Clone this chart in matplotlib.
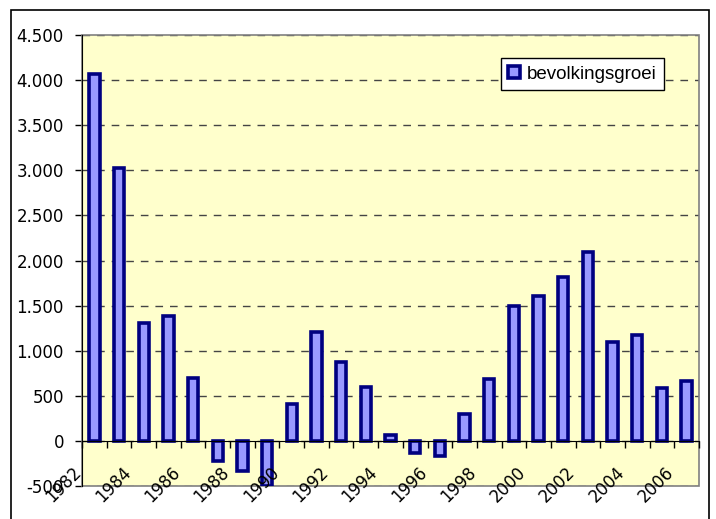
import numpy as np
import matplotlib
matplotlib.use("Agg")
import matplotlib.pyplot as plt
import matplotlib.transforms as mtransforms
from matplotlib.patches import Rectangle

# ===============================
# Data
# ===============================
jaren = list(range(1982, 2007))
bevolkingsgroei = [4070, 3020, 1310, 1390, 700, -218, -337, -499, 410, 1210,
                   880, 600, 60, -137, -163, 300, 690, 1500, 1610, 1820,
                   2090, 1100, 1170, 591, 660]
y_ticks = list(range(-500, 5000, 500))

# ===============================
# Figure
# ===============================
plt.rcParams["lines.scale_dashes"] = False
fig = plt.figure(figsize=(7.16, 5.19), dpi=100)
ax = fig.add_axes([82 / 716, 1 - 486 / 519, 617 / 716, 451 / 519])
ax.set_facecolor("#FFFFCC")

x = np.arange(len(jaren))
ax.bar(x, bevolkingsgroei, width=0.42, color="#9999FF", edgecolor="#000080",
       linewidth=2.6, label="bevolkingsgroei", zorder=3)

ax.set_xlim(-0.5, len(jaren) - 0.5)
ax.set_ylim(-500, 4500)

# y-as
ax.set_yticks(y_ticks)
ax.set_yticklabels([f"{v:,.0f}".replace(",", ".") for v in y_ticks],
                   fontsize=12, family="DejaVu Sans")
ax.tick_params(axis="y", direction="out", length=5, width=1, pad=8)
ax.yaxis.grid(True, linestyle=(0, (5.5, 5)), color="#444444", linewidth=1)
ax.set_axisbelow(True)

# x-as op nul (labels boven de staven)
ax.spines["bottom"].set_position(("data", 0))
ax.spines["bottom"].set_zorder(4)
ax.spines["top"].set_visible(False)
ax.spines["right"].set_visible(False)
ax.xaxis.set_zorder(5)
ax.set_xticks(x[::2])
ax.set_xticklabels([str(j) for j in jaren[::2]], rotation=45, ha="right",
                   va="top", rotation_mode="anchor", fontsize=12,
                   family="DejaVu Sans")
ax.tick_params(axis="x", length=0, pad=16)
ax.set_xticks(np.arange(-0.5, len(jaren), 1), minor=True)
ax.tick_params(axis="x", which="minor", direction="out", length=5, width=1)
offset = mtransforms.ScaledTranslation(-22 / 100, 0, fig.dpi_scale_trans)
for lbl in ax.get_xticklabels():
    lbl.set_transform(lbl.get_transform() + offset)

# kader plotgebied
ax.add_patch(Rectangle((0, 0), 1, 1, transform=ax.transAxes, fill=False,
                       edgecolor="#808080", linewidth=1.2, clip_on=False,
                       zorder=2))

# legenda
leg = ax.legend(loc="upper left", bbox_to_anchor=(0.679, 0.949),
                borderaxespad=0, fancybox=False, edgecolor="black",
                framealpha=1, handlelength=0.6, handleheight=0.6,
                handletextpad=0.4, borderpad=0.4,
                prop={"family": "Liberation Sans", "size": 13.5})
leg.get_frame().set_linewidth(1)
leg.set_zorder(6)

# kader grafiekgebied
fig.add_artist(Rectangle((11 / 716, -0.1), 698 / 716, 1.1 - 10 / 519,
                         transform=fig.transFigure, fill=False,
                         edgecolor="black", linewidth=1.2))

fig.savefig("out.png", dpi=100)
